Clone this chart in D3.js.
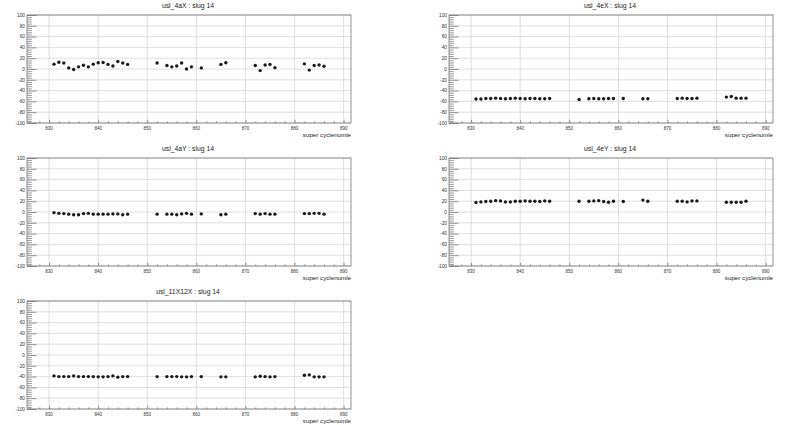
<!DOCTYPE html>
<html>
<head>
<meta charset="utf-8">
<script src="https://cdn.jsdelivr.net/npm/d3@7"></script>
<style>
  body { margin: 0; background: #fff; }
  svg { display: block; font-family: "Liberation Sans", Arial, sans-serif; }
  .grid line { stroke: #d6d6d6; stroke-width: 0.8; }
  .axis path, .axis line { stroke: #555; stroke-width: 0.6; }
  .axis text { fill: #333; }
</style>
</head>
<body>
<svg id="chart" width="800" height="425"></svg>
<script>
// super cycle numbers (shared by every panel)
const cycles = [831, 832, 833, 834, 835, 836, 837, 838, 839, 840, 841, 842, 843, 844, 845, 846,
  852, 854, 855, 856, 857, 858, 859, 861, 865, 866,
  872, 873, 874, 875, 876, 882, 883, 884, 885, 886];

const usl4aX = [9, 12.5, 11, 2, -1, 4, 7, 4, 9, 11.5, 12, 8.5, 5.5, 14, 11, 8.5,
  11, 6.5, 4, 5.5, 11, 0, 4, 2, 8.5, 11.5,
  6.5, -3, 7.5, 8.5, 2.5, 9.5, -2, 6.5, 7.5, 5];
const usl4eX = [-55.5, -55.5, -54.5, -54.5, -54, -54.5, -55, -54.5, -54, -54.5, -55, -54.5, -54.5, -55, -55, -54.5,
  -56.5, -55, -54.5, -55, -55, -54.5, -54.5, -54.5, -55, -55,
  -54.5, -54, -54.5, -54.5, -54, -52, -51, -54, -54, -54];
const usl4aY = [-1.2, -2.5, -3, -4, -5, -5, -3, -2.5, -4, -4, -4, -4, -3.5, -3.5, -5, -4,
  -4, -4, -4, -5, -3.5, -2.5, -4, -3.5, -5, -4,
  -3, -4, -3, -4, -4, -3, -3, -2.5, -2.5, -4];
const usl4eY = [17.5, 18.7, 19.4, 20, 21, 20.6, 18.7, 18.7, 20, 20, 20.6, 20, 20, 19.4, 20.6, 20,
  20, 20, 20.6, 21, 19.4, 18, 20, 19.4, 22, 20,
  20, 20, 18.7, 20.6, 20.6, 18, 18, 18, 18, 20];
const usl11X12X = [-38.7, -40, -40, -40, -38.7, -40, -40, -40, -40, -40.5, -40.5, -40, -38.7, -41, -40, -40,
  -40, -40, -40, -40, -40.5, -40.5, -40, -40, -40.5, -40.5,
  -40.5, -39.3, -40, -40.5, -40, -37.4, -36.8, -40.5, -40.5, -40.5];

const panelNames = ["usl_4aX", "usl_4eX", "usl_4aY", "usl_4eY", "usl_11X12X"];
const panelValues = [usl4aX, usl4eX, usl4aY, usl4eY, usl11X12X];
const slug = 14;
const xLabel = "super cyclenumle";
const xTicks = [830, 840, 850, 860, 870, 880, 890];
const yTicks = [-100, -80, -60, -40, -20, 0, 20, 40, 60, 80, 100];

const svg = d3.select("#chart");

// frame geometry
const frameW = 324, frameH = 108;
const colX = [27, 449], rowY = [15, 158, 301];

const x = d3.scaleLinear().domain([825.5, 891.5]).range([0, frameW]);
const y = d3.scaleLinear().domain([-100, 100]).range([frameH, 0]);

const xMinor = d3.range(826, 892, 2).filter(v => v % 10 !== 0);
const yMinor = d3.range(-96, 100, 4).filter(v => v % 20 !== 0);

panelNames.forEach((name, i) => {
  const col = i % 2, row = Math.floor(i / 2);
  const g = svg.append("g").attr("transform", `translate(${colX[col]},${rowY[row]})`);

  // grid
  const grid = g.append("g").attr("class", "grid");
  grid.selectAll(".vx").data(xTicks).join("line")
    .attr("x1", d => x(d)).attr("x2", d => x(d))
    .attr("y1", 0).attr("y2", frameH);
  grid.selectAll(".hy").data(yTicks).join("line")
    .attr("x1", 0).attr("x2", frameW)
    .attr("y1", d => y(d)).attr("y2", d => y(d));

  // x axis (ticks point up into the frame)
  g.append("g").attr("class", "axis")
    .attr("transform", `translate(0,${frameH})`)
    .call(d3.axisTop(x).tickValues(xTicks).tickSize(3.2).tickSizeOuter(0).tickFormat(""))
    .select(".domain").remove();
  g.append("g").attr("class", "axis")
    .attr("transform", `translate(0,${frameH})`)
    .call(d3.axisTop(x).tickValues(xMinor).tickSize(1.6).tickFormat(""))
    .select(".domain").remove();
  g.append("g").attr("class", "axis")
    .selectAll("text").data(xTicks).join("text")
    .attr("x", d => x(d)).attr("y", frameH + 6.8)
    .attr("text-anchor", "middle")
    .attr("font-size", 4.5)
    .text(d => d);

  // y axis (ticks point right into the frame)
  g.append("g").attr("class", "axis")
    .call(d3.axisRight(y).tickValues(yTicks).tickSize(9.5).tickSizeOuter(0).tickFormat(""))
    .select(".domain").remove();
  g.append("g").attr("class", "axis")
    .call(d3.axisRight(y).tickValues(yMinor).tickSize(4.8).tickFormat(""))
    .select(".domain").remove();
  g.append("g").attr("class", "axis")
    .selectAll("text").data(yTicks).join("text")
    .attr("x", -2).attr("y", d => y(d) + 1.7)
    .attr("text-anchor", "end")
    .attr("font-size", 4.8)
    .text(d => d);

  // frame
  g.append("rect")
    .attr("width", frameW).attr("height", frameH)
    .attr("fill", "none").attr("stroke", "#666").attr("stroke-width", 0.7);

  // points
  const vals = panelValues[i];
  g.append("g").selectAll("circle").data(cycles).join("circle")
    .attr("cx", d => x(d))
    .attr("cy", (d, j) => y(vals[j]))
    .attr("r", 1.7)
    .attr("fill", "#1a1a1a");

  // titles
  g.append("text")
    .attr("x", frameW / 2 - 1).attr("y", -7.5)
    .attr("text-anchor", "middle")
    .attr("font-size", 6.8).attr("fill", "#222")
    .text(`${name} : slug ${slug}`);
  g.append("text")
    .attr("x", frameW).attr("y", frameH + 13.5)
    .attr("text-anchor", "end")
    .attr("font-size", 6.2).attr("fill", "#222")
    .text(xLabel);
});
</script>
</body>
</html>
